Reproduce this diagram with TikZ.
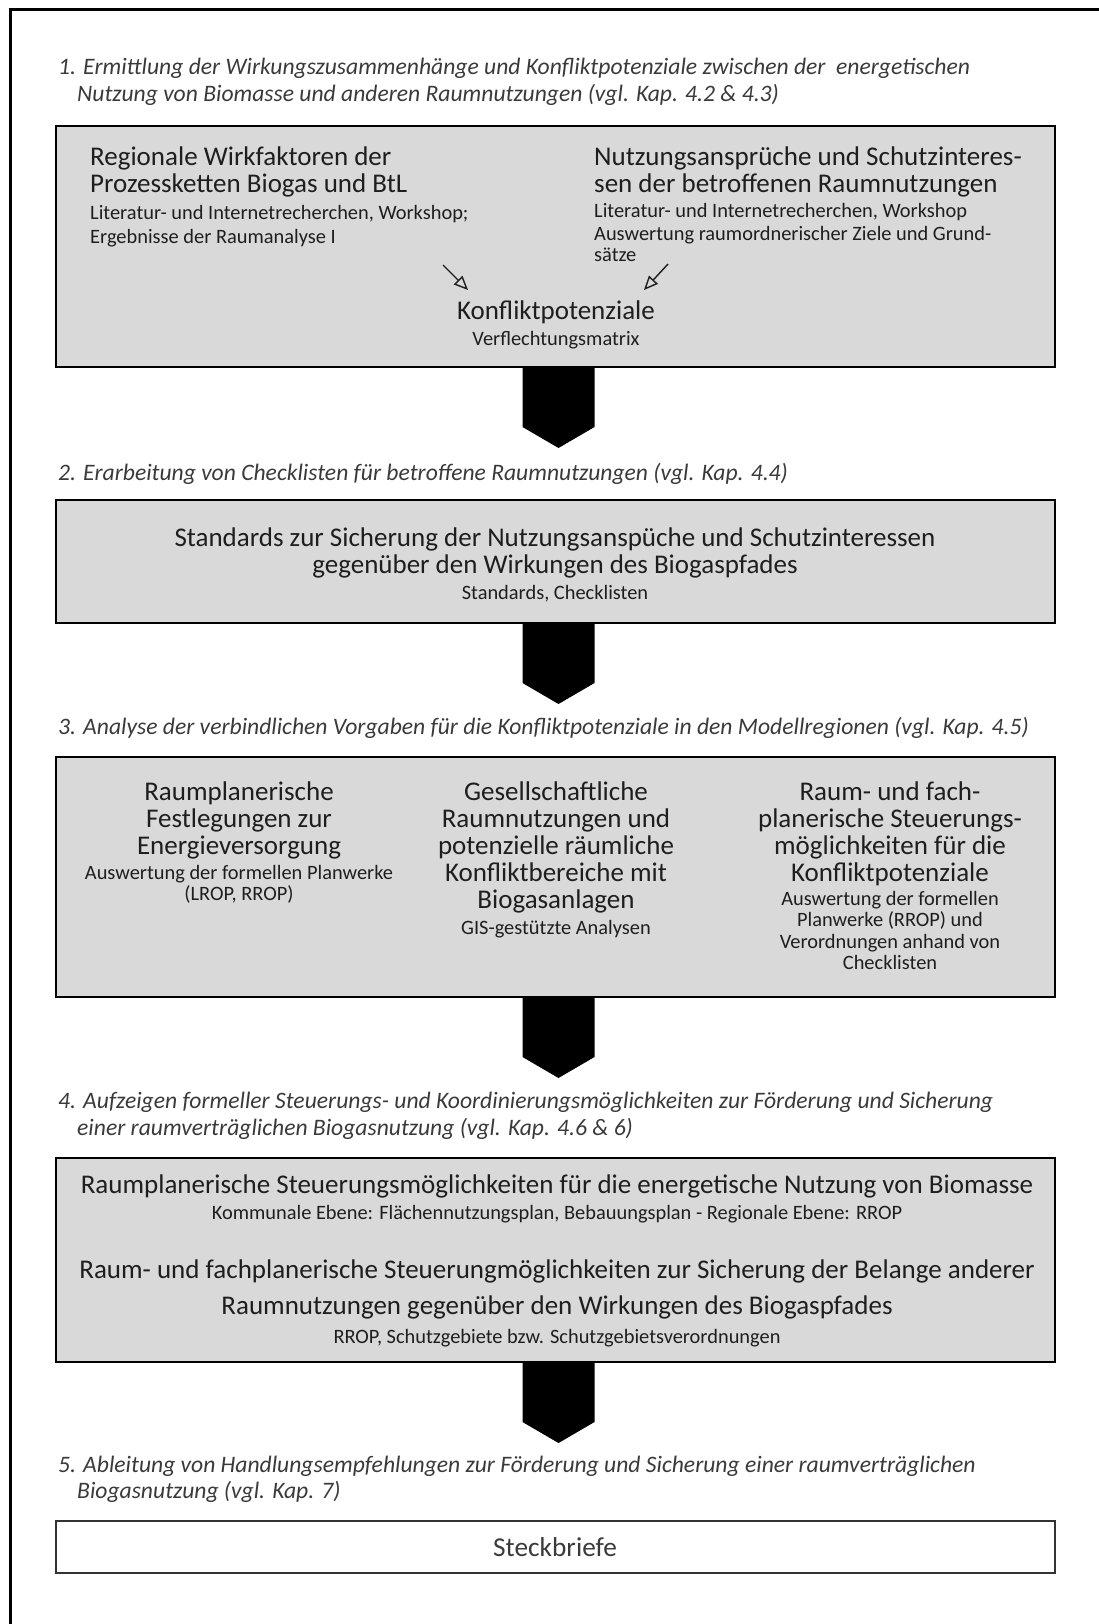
\documentclass[tikz,border=0pt]{standalone}
\usepackage{fontspec}
\setmainfont{Carlito}
\usetikzlibrary{arrows.meta,calc}
\definecolor{boxgray}{HTML}{D9D9D9}
\definecolor{txt}{HTML}{1E1E1E}
\definecolor{head}{HTML}{3A3A3A}
\begin{document}
\begin{tikzpicture}[x=1pt,y=-1pt,
  graybox/.style={draw=black, line width=2.6pt, fill=boxgray, inner sep=0pt, outer sep=0pt, anchor=north west},
  whitebox/.style={draw=black!80, line width=2.2pt, fill=white, inner sep=0pt, outer sep=0pt, anchor=north west},
  ttl/.style={font=\fontsize{27}{27}\selectfont, text=txt, inner sep=0pt, anchor=base},
  sml/.style={font=\fontsize{20.4}{20.4}\selectfont, text=txt, inner sep=0pt, anchor=base},
  hd/.style={font=\fontsize{23.6}{23.6}\selectfont\itshape, text=head, inner sep=0pt, anchor=base west},
  innerarrow/.style={line width=1.4pt, draw=txt, -{Triangle[open, length=14pt, width=12pt, line width=1.4pt]}},
  blockarrow/.style={fill=black}
]
\useasboundingbox (0,0) rectangle (1099,1624);
\draw[line width=3pt] (10,1624) -- (10,10) -- (1099,10);

% ---------- step 1 ----------
\node[hd] (h1a) at (58,75) {1. Ermittlung der Wirkungszusammenhänge und Konfliktpotenziale zwischen der \ energetischen};
\node[hd] (h1b) at (77,102) {Nutzung von Biomasse und anderen Raumnutzungen (vgl. Kap. 4.2 \& 4.3)};

\node[graybox, minimum width=999pt, minimum height=241pt] (b1) at (56,126) {};
\node[ttl, anchor=base west] (l1) at (90,166) {Regionale Wirkfaktoren der};
\node[ttl, anchor=base west] (l2) at (90,193) {Prozessketten Biogas und BtL};
\node[sml, anchor=base west] (l3) at (90,219) {Literatur- und Internetrecherchen, Workshop;};
\node[sml, anchor=base west] (l4) at (90,243) {Ergebnisse der Raumanalyse I};
\node[ttl, anchor=base west] (r1) at (594,166) {Nutzungsansprüche und Schutzinteres-};
\node[ttl, anchor=base west] (r2) at (594,193) {sen der betroffenen Raumnutzungen};
\node[sml, anchor=base west] (r3) at (594,218) {Literatur- und Internetrecherchen, Workshop};
\node[sml, anchor=base west] (r4) at (594,240) {Auswertung raumordnerischer Ziele und Grund-};
\node[sml, anchor=base west] (r5) at (594,261) {sätze};
\node[ttl] (k1) at (556,319) {Konfliktpotenziale};
\node[sml] (k2) at (556,345) {Verflechtungsmatrix};
\coordinate (a1s) at (443,265); \coordinate (a1e) at (468,290);
\coordinate (a2s) at (668,264); \coordinate (a2e) at (644,290);
\draw[innerarrow] (a1s) -- (a1e);
\draw[innerarrow] (a2s) -- (a2e);

\fill[blockarrow] ([xshift=-33pt]b1.south) -- ++(0,60) -- ++(36,21) -- ++(36,-21) -- ++(0,-60) -- cycle;

% ---------- step 2 ----------
\node[hd] (h2) at (58,480) {2. Erarbeitung von Checklisten für betroffene Raumnutzungen (vgl. Kap. 4.4)};
\node[graybox, minimum width=999pt, minimum height=123pt] (b2) at (56,500) {};
\node[ttl] (s1) at (555,546) {Standards zur Sicherung der Nutzungsanspüche und Schutzinteressen};
\node[ttl] (s2) at (555,573) {gegenüber den Wirkungen des Biogaspfades};
\node[sml] (s3) at (555,599) {Standards, Checklisten};

\fill[blockarrow] ([xshift=-33pt]b2.south) -- ++(0,60) -- ++(36,21) -- ++(36,-21) -- ++(0,-60) -- cycle;

% ---------- step 3 ----------
\node[hd] (h3) at (58,734) {3. Analyse der verbindlichen Vorgaben für die Konfliktpotenziale in den Modellregionen (vgl. Kap. 4.5)};
\node[graybox, minimum width=999pt, minimum height=240pt] (b3) at (56,757) {};
\node[ttl] (c1a) at (239,800) {Raumplanerische};
\node[ttl] (c1b) at (239,827) {Festlegungen zur};
\node[ttl] (c1c) at (239,854) {Energieversorgung};
\node[sml] (c1d) at (239,879) {Auswertung der formellen Planwerke};
\node[sml] (c1e) at (239,900) {(LROP, RROP)};
\node[ttl] (c2a) at (556,800) {Gesellschaftliche};
\node[ttl] (c2b) at (556,827) {Raumnutzungen und};
\node[ttl] (c2c) at (556,854) {potenzielle räumliche};
\node[ttl] (c2d) at (556,881) {Konfliktbereiche mit};
\node[ttl] (c2e) at (556,908) {Biogasanlagen};
\node[sml] (c2f) at (556,934) {GIS-gestützte Analysen};
\node[ttl] (c3a) at (890,800) {Raum- und fach-};
\node[ttl] (c3b) at (890,827) {planerische Steuerungs-};
\node[ttl] (c3c) at (890,854) {möglichkeiten für die};
\node[ttl] (c3d) at (890,881) {Konfliktpotenziale};
\node[sml] (c3e) at (890,905) {Auswertung der formellen};
\node[sml] (c3f) at (890,926) {Planwerke (RROP) und};
\node[sml] (c3g) at (890,948) {Verordnungen anhand von};
\node[sml] (c3h) at (890,969) {Checklisten};

\fill[blockarrow] ([xshift=-33pt]b3.south) -- ++(0,60) -- ++(36,21) -- ++(36,-21) -- ++(0,-60) -- cycle;

% ---------- step 4 ----------
\node[hd] (h4a) at (58,1108) {4. Aufzeigen formeller Steuerungs- und Koordinierungsmöglichkeiten zur Förderung und Sicherung};
\node[hd] (h4b) at (77,1135) {einer raumverträglichen Biogasnutzung (vgl. Kap. 4.6 \& 6)};
\node[graybox, minimum width=999pt, minimum height=204pt] (b4) at (56,1158) {};
\node[ttl] (d1) at (557,1193) {Raumplanerische Steuerungsmöglichkeiten für die energetische Nutzung von Biomasse};
\node[sml] (d2) at (557,1219) {Kommunale Ebene: Flächennutzungsplan, Bebauungsplan - Regionale Ebene: RROP};
\node[ttl] (d3) at (557,1278) {Raum- und fachplanerische Steuerungmöglichkeiten zur Sicherung der Belange anderer};
\node[ttl] (d4) at (557,1314) {Raumnutzungen gegenüber den Wirkungen des Biogaspfades};
\node[sml] (d5) at (557,1343) {RROP, Schutzgebiete bzw. Schutzgebietsverordnungen};

\fill[blockarrow] ([xshift=-33pt]b4.south) -- ++(0,60) -- ++(36,21) -- ++(36,-21) -- ++(0,-60) -- cycle;

% ---------- step 5 ----------
\node[hd] (h5a) at (58,1472) {5. Ableitung von Handlungsempfehlungen zur Förderung und Sicherung einer raumverträglichen};
\node[hd] (h5b) at (77,1498) {Biogasnutzung (vgl. Kap. 7)};
\node[whitebox, minimum width=999pt, minimum height=52pt] (b5) at (56,1521) {};
\node[font=\fontsize{27.3}{27.3}\selectfont, text=head, inner sep=0pt, anchor=base] (st) at (555,1556) {Steckbriefe};
\end{tikzpicture}
\end{document}
